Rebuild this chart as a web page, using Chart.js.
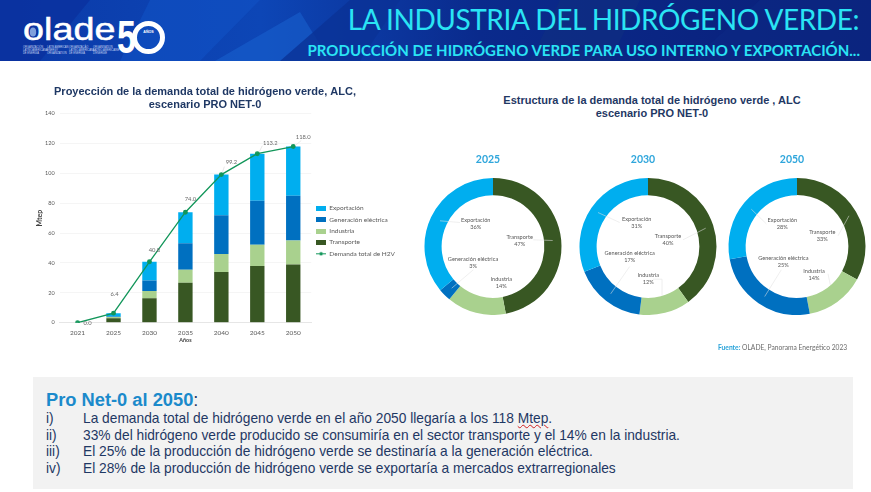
<!DOCTYPE html>
<html lang="es"><head><meta charset="utf-8">
<script src="https://cdn.jsdelivr.net/npm/chart.js@4"></script>
<style>
html,body{margin:0;padding:0;background:#fff;overflow:hidden}
body{width:871px;height:492px;position:relative;font-family:"Liberation Sans",Arial,sans-serif}
.abs{position:absolute;white-space:nowrap}
canvas{position:absolute}
#hdr{left:0;top:0;width:871px;height:61px;background:#0b2a92;overflow:hidden}
#hdr svg{position:absolute;left:0;top:0}
.t1{right:12px;top:2px;font:400 28px Lato,sans-serif;color:#2ae4f4;letter-spacing:-.42px}
.t2{right:11px;top:41px;font:700 15px Lato,sans-serif;color:#2ae4f4}
.chartT{font:700 11px/13px "Liberation Sans",sans-serif;color:#1f3864;text-align:center}
#panel{left:33px;top:377px;width:820px;height:112px;background:#f2f2f2}
.h{left:46px;top:389px;font:700 18.3px/22px "Liberation Sans",sans-serif;color:#1b8acb}
.h span{color:#1f3864;font-weight:400}
.l{font:400 13.75px/17px "Liberation Sans",sans-serif;color:#1f3864}
.wavy{text-decoration:underline wavy #d02020 1px;text-underline-offset:1px}
.src{left:718px;top:343px;font:400 6.7px/9px Lato,sans-serif;color:#6b6b6b}
.src b{color:#29a3d9}
</style></head><body>
<div class="abs" id="hdr">
<svg width="871" height="61" viewBox="0 0 871 61">
<defs><linearGradient id="g" x1="0" x2="1" y1="0" y2="0"><stop offset="0" stop-color="#0b3aa8"/><stop offset=".3" stop-color="#0d46b6"/><stop offset=".55" stop-color="#0a2a8c"/><stop offset="1" stop-color="#0a1f78"/></linearGradient></defs>
<rect width="871" height="61" fill="url(#g)"/>
<polygon points="0,0 90,0 40,61 0,61" fill="#0a2f9c" opacity=".7"/>
<polygon points="150,0 260,0 200,61 120,61" fill="#1152c4" opacity=".6"/>
<polygon points="215,61 300,12 330,61" fill="#1a63d0" opacity=".55"/>
<polygon points="280,61 350,0 400,0 360,61" fill="#0a3296" opacity=".8"/>
<polygon points="560,0 640,0 610,61 530,61" fill="#0f2f80" opacity=".6"/>
<polygon points="690,61 760,0 871,0 871,61" fill="#0b2a86" opacity=".5"/>
<ellipse cx="33" cy="32" rx="3.2" ry="4.5" fill="#7fa0dc"/>
</svg>
<div class="abs" style="left:23px;top:7px;font:400 32px/44px 'Liberation Sans',sans-serif;color:#fff;-webkit-text-stroke:.5px #fff;transform:scaleX(1.18);transform-origin:left">olade</div>
<div class="abs" style="left:117px;top:15px;font:700 47px/44px 'Liberation Sans',sans-serif;color:#fff;transform:scaleX(.72);transform-origin:left">5</div>
<div class="abs" style="left:132px;top:21px;width:23px;height:23px;border:5px solid #fff;border-radius:50%"></div>
<div class="abs" style="left:132px;top:30px;width:33px;text-align:center;font:700 3.6px/5px 'Liberation Sans',sans-serif;color:#fff">AÑOS</div>
<div class="abs" style="left:23px;top:46px;font:400 2.6px/3px 'Liberation Sans',sans-serif;color:#c9d6f2">ORGANIZACIÓN<br>LATINOAMERICANA<br>DE ENERGÍA</div>
<div class="abs" style="left:47px;top:46px;font:400 2.6px/3px 'Liberation Sans',sans-serif;color:#c9d6f2">LATIN AMERICAN<br>ENERGY<br>ORGANIZATION</div>
<div class="abs" style="left:69px;top:46px;font:400 2.6px/3px 'Liberation Sans',sans-serif;color:#c9d6f2">ORGANIZAÇÃO<br>LATINO-AMERICANA<br>DE ENERGIA</div>
<div class="abs" style="left:93px;top:46px;font:400 2.6px/3px 'Liberation Sans',sans-serif;color:#c9d6f2">ORGANISATION<br>LATINO-AMÉRICAINE<br>D'ÉNERGIE</div>
<div class="abs t1">LA INDUSTRIA DEL HIDRÓGENO VERDE:</div>
<div class="abs t2">PRODUCCIÓN DE HIDRÓGENO VERDE PARA USO INTERNO Y EXPORTACIÓN...</div>
</div>

<canvas id="bar" width="400" height="302" style="left:5px;top:80px"></canvas>
<div class="abs chartT" style="left:452px;top:94px;width:400px">Estructura de la demanda total de hidrógeno verde , ALC<br>escenario PRO NET-0</div>
<canvas id="d0" width="150" height="165" style="left:418px;top:150px"></canvas>
<canvas id="d1" width="150" height="165" style="left:573px;top:150px"></canvas>
<canvas id="d2" width="150" height="165" style="left:722px;top:150px"></canvas>
<div class="abs src"><b>Fuente:</b> OLADE, Panorama Energético 2023</div>

<div class="abs" id="panel"></div>
<div class="abs h">Pro Net-0 al 2050<span>:</span></div>
<div class="abs l" style="left:46px;top:410px">i)</div><div class="abs l" style="left:83px;top:410px">La demanda total de hidrógeno verde en el año 2050 llegaría a los 118 <span class="wavy">Mtep</span>.</div>
<div class="abs l" style="left:46px;top:427px">ii)</div><div class="abs l" style="left:83px;top:427px">33% del hidrógeno verde producido se consumiría en el sector transporte y el 14% en la industria.</div>
<div class="abs l" style="left:46px;top:443px">iii)</div><div class="abs l" style="left:83px;top:443px">El 25% de la producción de hidrógeno verde se destinaría a la generación eléctrica.</div>
<div class="abs l" style="left:46px;top:460px">iv)</div><div class="abs l" style="left:83px;top:460px">El 28% de la producción de hidrógeno verde se exportaría a mercados extrarregionales</div>

<script>
const years = ['2021','2025','2030','2035','2040','2045','2050'];
const transporte = [0,3,16.3,26.8,34,38,39];
const industria = [0,0.9,5,8.7,12,14.2,16];
const generacion = [0,0.2,7,17.7,26,29.5,30];
const exportacion = [0,2.3,12.5,20.8,27.2,31.5,33];
const demanda = [0,6.4,40.8,74,99.2,113.2,118];
const yTicks = [0,20,40,60,80,100,120,140];
const sectors = ['Transporte','Industria','Generación eléctrica','Exportación'];
const donutYears = ['2025','2030','2050'];
const share2025 = [47,14,3,36];
const share2030 = [40,12,17,31];
const share2050 = [33,14,25,28];

const C = {T:'#385723',I:'#a9d18e',G:'#0070c0',E:'#00aeef',L:'#12965a'};
const F = 'Lato, sans-serif';
Chart.defaults.animation = false;
Chart.defaults.responsive = false;

function swatch(col, line){
  const c = document.createElement('canvas'); c.width = 10; c.height = 5;
  const x = c.getContext('2d');
  if(line){ x.fillStyle=col; x.fillRect(0,2,10,1); x.beginPath(); x.arc(5,2.5,1.8,0,7); x.fill(); }
  else { x.fillStyle=col; x.fillRect(0,0,10,5); }
  return c;
}
const legendItems = [['Exportación',C.E,0],['Generación eléctrica',C.G,0],['Industria',C.I,0],['Transporte',C.T,0],['Demanda total de H2V',C.L,1]];

/* label offsets from each line point */
const labelPlugin = {id:'lineLabels', afterDatasetsDraw(ch){
  const off = [[10,0],[1,-19],[5,-12],[5,-13],[10,-12],[13,-11],[10,-9.5]];
  const lead = [null,null,null,null,[1,-2,3,-8],[2,-2,5,-8],[2,-1,8,-6]];
  const m = ch.getDatasetMeta(4), x = ch.ctx;
  x.save(); x.font = '5.8px '+F; x.textAlign='center'; x.textBaseline='middle';
  m.data.forEach((p,i)=>{
    if(lead[i]){ x.strokeStyle='#d9d9d9'; x.lineWidth=.6; x.beginPath(); x.moveTo(p.x+lead[i][0],p.y+lead[i][1]); x.lineTo(p.x+lead[i][2],p.y+lead[i][3]); x.stroke(); }
    x.fillStyle='#6a6a6a'; x.fillText(demanda[i].toFixed(1),p.x+off[i][0],p.y+off[i][1]);
  });
  x.restore();
}};

new Chart(document.getElementById('bar'),{
  type:'bar',
  data:{labels:years,datasets:[
    {label:'Transporte',data:transporte,backgroundColor:C.T,order:2,barPercentage:.4,categoryPercentage:1},
    {label:'Industria',data:industria,backgroundColor:C.I,order:2,barPercentage:.4,categoryPercentage:1},
    {label:'Generación eléctrica',data:generacion,backgroundColor:C.G,order:2,barPercentage:.4,categoryPercentage:1},
    {label:'Exportación',data:exportacion,backgroundColor:C.E,order:2,barPercentage:.4,categoryPercentage:1},
    {type:'line',label:'Demanda total de H2V',data:demanda,borderColor:C.L,backgroundColor:C.L,borderWidth:1.3,pointRadius:1.8,pointHoverRadius:1.8,tension:0,order:1}
  ]},
  plugins:[labelPlugin],
  options:{
    layout:{padding:0},
    plugins:{
      title:{display:true,text:['Proyección de la demanda total de hidrógeno verde, ALC,','escenario PRO NET-0'],
        color:'#1f3864',font:{family:'"Liberation Sans",sans-serif',size:11,weight:'700',lineHeight:1.19},padding:{top:5,bottom:2.5}},
      legend:{position:'right',labels:{color:'#595959',font:{family:F,size:6.5},usePointStyle:true,pointStyleWidth:10,boxHeight:5,padding:4.9,
        generateLabels:()=>legendItems.map(([t,c,l])=>({text:t,fontColor:'#595959',pointStyle:swatch(c,l),fillStyle:c,strokeStyle:c,lineWidth:0,hidden:false}))}},
      tooltip:{enabled:false}
    },
    scales:{
      x:{stacked:true,offset:true,grid:{display:false,drawTicks:false},border:{color:'#e6e6e6'},
        ticks:{color:'#595959',font:{family:F,size:6.5},padding:6,maxRotation:0},
        title:{display:true,text:'Años',color:'#404040',font:{family:F,size:5.4,weight:'700'},padding:{top:2,bottom:38}},
        afterFit(s){s.height=59.3}},
      y:{stacked:true,min:0,max:140,afterBuildTicks(s){s.ticks=yTicks.map(v=>({value:v}))},
        grid:{color:'#f0f0f0',lineWidth:.7,drawTicks:false},border:{display:false},
        ticks:{color:'#595959',font:{family:F,size:5.5},padding:5},
        title:{display:true,text:'Mtep',color:'#404040',font:{family:F,size:7,weight:'700'},padding:{top:31,bottom:0}},
        afterFit(s){s.width=54.6}}
    }
  }
});

/* per-ring annotation layout: label centre and leader polyline, px from ring centre */
const donutLayout = [
 {labels:[[26.7,-5.8],[8.3,36],[-20,16.2],[-17.3,-23.2]],
  leads:[[40.3,-6.7,59.7,-6],null,[-41.3,41.7,-19.7,23.3],[-53,-25.7,-33,-24]]},
 {labels:[[20,-6.5],[.3,32.5],[-18.3,10.2],[-11.3,-23.8]],
  leads:[[35,-6.7,57.7,-18.3],[5,32.7,14,32.7,14,49.3],[-37.3,47.3,-18.3,20],[-50,-34,-28.3,-24]]},
 {labels:[[25.3,-11.2],[17,28.3],[-13.7,15],[-14.7,-22.8]],
  leads:[[41,-10.7,52,-30.7],[31,27.3,33.3,38.3],[-32.3,50,-15.7,23.3],[-45.7,-37.3,-30.7,-22.7]]}
];
[share2025,share2030,share2050].forEach((vals,k)=>{
  new Chart(document.getElementById('d'+k),{
    type:'doughnut',
    data:{labels:sectors,datasets:[{data:vals,backgroundColor:[C.T,C.I,C.G,C.E],borderWidth:0,hoverOffset:0}]},
    plugins:[{id:'ringNotes',afterDatasetsDraw(ch){
      const x=ch.ctx, a=ch.getDatasetMeta(0).data[0], L=donutLayout[k];
      x.save();
      x.textAlign='center'; x.textBaseline='middle';
      x.fillStyle='#2fa6dc'; x.font='700 10.5px '+F; x.fillText(donutYears[k],a.x-5,10);
      L.leads.forEach(p=>{ if(!p) return;
        x.strokeStyle='rgba(225,225,225,.9)'; x.lineWidth=.6; x.beginPath(); x.moveTo(a.x+p[0],a.y+p[1]);
        for(let i=2;i<p.length;i+=2) x.lineTo(a.x+p[i],a.y+p[i+1]); x.stroke();
      });
      x.fillStyle='#595959'; x.font='5.6px '+F;
      sectors.forEach((s,i)=>{ const q=L.labels[i];
        x.fillText(s,a.x+q[0],a.y+q[1]-3.4);
        x.fillText(vals[i]+'%',a.x+q[0],a.y+q[1]+3.4);
      });
      x.restore();
    }}],
    options:{cutout:'75%',layout:{padding:{top:28}},plugins:{legend:{display:false},title:{display:false},tooltip:{enabled:false}}}
  });
});
</script>
</body></html>
